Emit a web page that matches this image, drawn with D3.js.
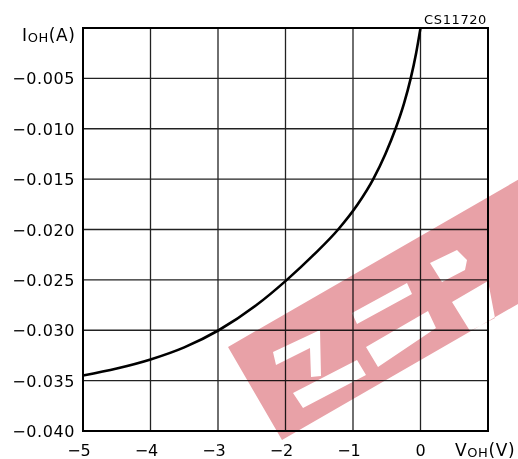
<!DOCTYPE html>
<html>
<head>
<meta charset="utf-8">
<script src="https://cdn.jsdelivr.net/npm/d3@7"></script>
<style>
body { margin: 0; background: #fff; }
text { font-family: "DejaVu Sans", sans-serif; fill: #000; }
</style>
</head>
<body>
<div id="chart"></div>
<script>
// V_OH (V) and I_OH (A)
var voh = [-5, -4.5, -4, -3.5, -2.99, -2.43, -1.98, -1.58, -1.22, -0.93, -0.70, -0.52, -0.37, -0.245, -0.145, -0.065, 0];
var ioh = [-0.0345, -0.0338, -0.0329, -0.0317, -0.0300, -0.0275, -0.0250, -0.0225, -0.0200, -0.0175, -0.0150, -0.0125, -0.0100, -0.0075, -0.0050, -0.0025, 0];

var xTicks = [-5, -4, -3, -2, -1, 0, 1];
var yTicks = [-0.040, -0.035, -0.030, -0.025, -0.020, -0.015, -0.010, -0.005, 0];

var width = 518, height = 459;
var pLeft = 83, pRight = 488, pTop = 28, pBottom = 431;

var svg = d3.select("#chart").append("svg")
  .attr("width", width)
  .attr("height", height);

var x = d3.scaleLinear().domain([-5, 1]).range([pLeft, pRight]);
var y = d3.scaleLinear().domain([-0.040, 0]).range([pBottom, pTop]);

// grid
svg.append("g").selectAll("line")
  .data(xTicks.slice(1, -1))
  .enter().append("line")
  .attr("x1", d => x(d)).attr("x2", d => x(d))
  .attr("y1", pTop).attr("y2", pBottom)
  .attr("stroke", "#222").attr("stroke-width", 1.3);

svg.append("g").selectAll("line")
  .data(yTicks.slice(1, -1))
  .enter().append("line")
  .attr("y1", d => y(d)).attr("y2", d => y(d))
  .attr("x1", pLeft).attr("x2", pRight)
  .attr("stroke", "#222").attr("stroke-width", 1.3);

svg.append("rect")
  .attr("x", pLeft).attr("y", pTop)
  .attr("width", pRight - pLeft).attr("height", pBottom - pTop)
  .attr("fill", "none").attr("stroke", "#000").attr("stroke-width", 2);

// tick labels
var fmtY = v => (v < 0 ? "\u2212" : "") + Math.abs(v).toFixed(3);
var fmtX = v => (v < 0 ? "\u2212" : "") + Math.abs(v);

svg.append("g").selectAll("text")
  .data(yTicks.slice(0, -1))
  .enter().append("text")
  .attr("x", 75).attr("y", d => y(d) + 6)
  .attr("text-anchor", "end")
  .attr("font-size", 16)
  .attr("letter-spacing", 0.6)
  .text(fmtY);

svg.append("g").selectAll("text")
  .data(xTicks.slice(0, -1))
  .enter().append("text")
  .attr("x", d => x(d) + (d < 0 ? -4 : 0)).attr("y", 456)
  .attr("text-anchor", "middle")
  .attr("font-size", 16)
  .text(fmtX);

// axis titles
var yt = svg.append("text").attr("x", 22).attr("y", 41).attr("font-size", 17).attr("letter-spacing", 0.6);
yt.append("tspan").text("I");
yt.append("tspan").attr("font-size", 13).attr("dy", 1).text("OH");
yt.append("tspan").attr("dy", -1).text("(A)");

var xt = svg.append("text").attr("x", 455).attr("y", 456).attr("font-size", 17).attr("letter-spacing", 0.6);
xt.append("tspan").text("V");
xt.append("tspan").attr("font-size", 13).attr("dy", 1).text("OH");
xt.append("tspan").attr("dy", -1).text("(V)");

svg.append("text")
  .attr("x", 487).attr("y", 24)
  .attr("text-anchor", "end")
  .attr("font-size", 13)
  .attr("letter-spacing", 0.6)
  .text("CS11720");

// curve
var pts = voh.map((v, i) => [v, ioh[i]]);
var line = d3.line()
  .x(d => x(d[0]))
  .y(d => y(d[1]))
  .curve(d3.curveMonotoneX);

svg.append("path")
  .datum(pts)
  .attr("d", line)
  .attr("fill", "none")
  .attr("stroke", "#000")
  .attr("stroke-width", 2.6);

// watermark: slanted pink band with letter cut-outs
var wmBand = [[228, 347], [575, 147], [629, 240], [282, 440]];
var wmHoles = [
  [[273, 352], [320, 330], [321, 376], [311, 377], [310, 348], [276, 365]],
  [[293, 393], [357, 360], [366, 375], [303, 408]],
  [[352, 313], [407, 283], [412, 294], [357, 324]],
  [[366, 347], [428, 311], [436, 328], [378, 367]],
  [[430, 263], [457, 250], [467, 260], [465, 270], [442, 282]],
  [[452, 302], [488, 281], [495, 318], [470, 331]]
];
var poly = p => "M" + p.map(q => q.join(",")).join("L") + "Z";

svg.append("path")
  .attr("d", poly(wmBand) + wmHoles.map(poly).join(""))
  .attr("fill-rule", "evenodd")
  .attr("fill", "#e8a1a7")
  .style("mix-blend-mode", "multiply");
</script>
</body>
</html>
